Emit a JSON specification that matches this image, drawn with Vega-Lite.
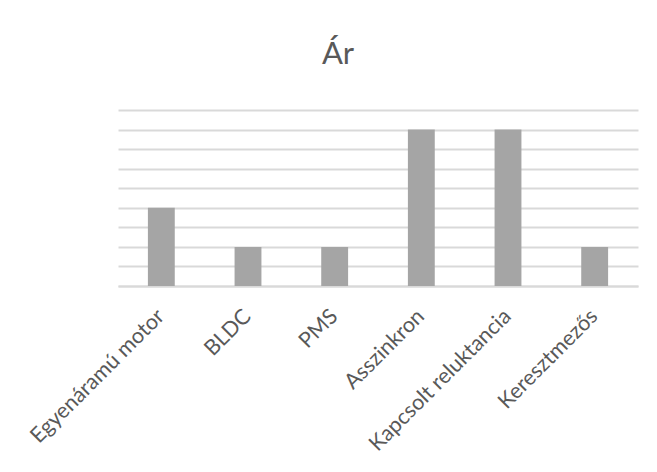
{
  "$schema": "https://vega.github.io/schema/vega-lite/v6.json",
  "autosize": {"type": "none"},
  "padding": {"left": 118, "top": 110, "right": 19, "bottom": 186},
  "width": 520,
  "height": 176,
  "background": "#ffffff",
  "title": {
    "text": "Ár",
    "font": "Lato",
    "fontSize": 31,
    "fontWeight": "normal",
    "color": "#595959",
    "anchor": "middle",
    "baseline": "alphabetic",
    "offset": 15,
    "dx": -40
  },
  "data": {
    "values": [
      {"motor": "Egyenáramú motor", "ar": 4},
      {"motor": "BLDC", "ar": 2},
      {"motor": "PMS", "ar": 2},
      {"motor": "Asszinkron", "ar": 8},
      {"motor": "Kapcsolt reluktancia", "ar": 8},
      {"motor": "Keresztmezős", "ar": 2}
    ]
  },
  "mark": {"type": "bar", "color": "#a5a5a5"},
  "encoding": {
    "x": {
      "field": "motor",
      "type": "nominal",
      "sort": null,
      "scale": {"paddingInner": 0.69, "paddingOuter": 0.345},
      "axis": {
        "title": null,
        "labelAngle": -45,
        "labelFont": "Lato",
        "labelFontSize": 21.5,
        "labelColor": "#595959",
        "labelPadding": 27,
        "labelBaseline": "middle",
        "labelLimit": 400,
        "ticks": false,
        "domainColor": "#d9d9d9",
        "domainWidth": 2,
        "grid": false
      }
    },
    "y": {
      "field": "ar",
      "type": "quantitative",
      "scale": {"domain": [0, 9], "nice": false},
      "axis": {
        "title": null,
        "labels": false,
        "ticks": false,
        "domain": false,
        "values": [0, 1, 2, 3, 4, 5, 6, 7, 8, 9],
        "gridColor": "#d9d9d9",
        "gridWidth": 2
      }
    }
  },
  "config": {
    "view": {"stroke": null}
  }
}
